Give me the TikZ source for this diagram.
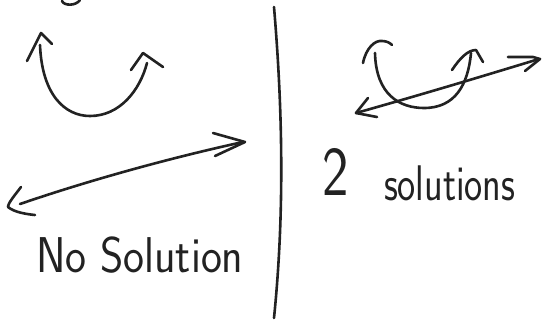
\documentclass[tikz,border=0pt]{standalone}
\usepackage{fontspec}
\definecolor{ink}{HTML}{222222}
\tikzset{
  pen/.style={draw=ink, line width=2.6pt, line cap=round, line join=round},
  label/.style={text=ink, inner sep=0pt, outer sep=0pt, font=\sffamily}
}
\begin{document}
\begin{tikzpicture}[x=1pt,y=-1pt]
\useasboundingbox[fill=white] (0,0) rectangle (543,322);
% partial stroke at top edge
\draw[pen] (62,1) .. controls (64,6) and (76,6) .. (80,0);
% left parabola
\draw[pen] (40,45) .. controls (42,95) and (65,116) .. (90,116) .. controls (120,116) and (140,90) .. (147,63);
\draw[pen] (27,61) -- (41,33) -- (52,44);
\draw[pen] (131,70) -- (143,53) -- (163,67);
% left line with arrowheads
\coordinate (l1) at (20,204);
\coordinate (l2) at (243,142);
\draw[pen] (l1) .. controls (90,180) and (170,158) .. (l2);
\draw[pen] (213,133) -- (245,142) -- (215,156);
\draw[pen] (21,187) .. controls (15,195) and (8,203) .. (8,207) .. controls (14,212) and (25,214) .. (35,215);
% divider
\coordinate (d1) at (274,7);
\coordinate (d2) at (274,318);
\draw[pen] (d1) .. controls (281,90) and (286,200) .. (d2);
% right parabola
\draw[pen] (375,53) .. controls (376,95) and (400,108) .. (424,108) .. controls (455,108) and (468,85) .. (471,53);
\draw[pen] (363,63) .. controls (366,48) and (375,40) .. (382,41) .. controls (387,41) and (390,43) .. (392,45);
\draw[pen] (452,70) .. controls (460,58) and (468,50) .. (476,50) -- (483,62);
% right line
\coordinate (r1) at (356,113);
\coordinate (r2) at (539,59);
\draw[pen] (r1) .. controls (420,95) and (480,77) .. (r2);
\draw[pen] (508,57) -- (533,57) -- (540,59) -- (525,71);
\draw[pen] (368,98) -- (356,113) -- (377,117);
% texts
\node[label, anchor=base west] (nosol) at (36,272) {\scalebox{1}[1.13]{\fontsize{44.5}{44.5}\selectfont No Solution}};
\node[label, anchor=base west] (two) at (322,195) {\scalebox{1}[1.25]{\fontsize{56}{56}\selectfont 2}};
\node[label, anchor=base west] (sols) at (384,200) {\scalebox{1}[1.3]{\fontsize{38.5}{38.5}\selectfont solutions}};
\end{tikzpicture}
\end{document}
